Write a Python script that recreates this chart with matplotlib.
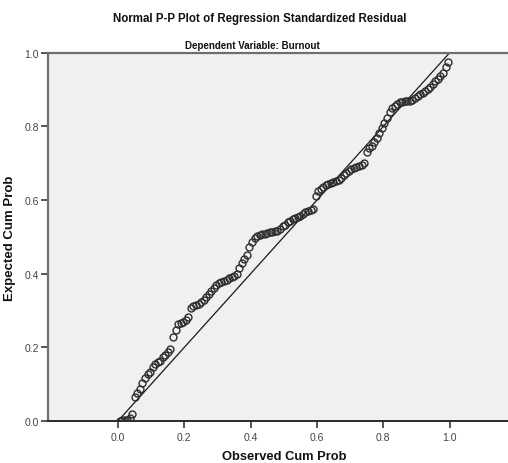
import matplotlib
matplotlib.use("Agg")
import matplotlib.pyplot as plt
from matplotlib import font_manager

# ---- data ----
observed_cum_prob = [
    0.0048, 0.0125, 0.0202, 0.0278, 0.0355, 0.0432, 0.0509, 0.0586, 0.0662, 0.0739,
    0.0816, 0.0893, 0.0969, 0.1046, 0.1123, 0.1200, 0.1276, 0.1353, 0.1430, 0.1507,
    0.1583, 0.1660, 0.1737, 0.1814, 0.1891, 0.1967, 0.2044, 0.2121, 0.2198, 0.2274,
    0.2351, 0.2428, 0.2505, 0.2582, 0.2658, 0.2735, 0.2812, 0.2889, 0.2965, 0.3042,
    0.3119, 0.3196, 0.3273, 0.3349, 0.3426, 0.3503, 0.3580, 0.3656, 0.3733, 0.3810,
    0.3887, 0.3964, 0.4040, 0.4117, 0.4194, 0.4271, 0.4347, 0.4424, 0.4501, 0.4578,
    0.4655, 0.4731, 0.4808, 0.4885, 0.4962, 0.5038, 0.5115, 0.5192, 0.5269, 0.5345,
    0.5422, 0.5499, 0.5576, 0.5653, 0.5729, 0.5806, 0.5883, 0.5960, 0.6036, 0.6113,
    0.6190, 0.6267, 0.6344, 0.6420, 0.6497, 0.6574, 0.6651, 0.6727, 0.6804, 0.6881,
    0.6958, 0.7035, 0.7111, 0.7188, 0.7265, 0.7342, 0.7418, 0.7495, 0.7572, 0.7649,
    0.7726, 0.7802, 0.7879, 0.7956, 0.8033, 0.8109, 0.8186, 0.8263, 0.8340, 0.8417,
    0.8493, 0.8570, 0.8647, 0.8724, 0.8800, 0.8877, 0.8954, 0.9031, 0.9107, 0.9184,
    0.9261, 0.9338, 0.9415, 0.9491, 0.9568, 0.9645, 0.9722, 0.9798, 0.9875, 0.9952,
]
expected_cum_prob = [
    0.001, 0.002, 0.003, 0.004, 0.007, 0.018, 0.064, 0.075, 0.087, 0.103,
    0.118, 0.128, 0.133, 0.147, 0.155, 0.161, 0.164, 0.173, 0.179, 0.186,
    0.196, 0.228, 0.247, 0.263, 0.267, 0.270, 0.273, 0.282, 0.306, 0.312,
    0.315, 0.318, 0.323, 0.328, 0.336, 0.345, 0.353, 0.362, 0.370, 0.375,
    0.378, 0.380, 0.383, 0.387, 0.390, 0.394, 0.400, 0.415, 0.428, 0.440,
    0.451, 0.472, 0.487, 0.497, 0.503, 0.505, 0.507, 0.509, 0.510, 0.512,
    0.513, 0.515, 0.517, 0.522, 0.529, 0.533, 0.539, 0.544, 0.548, 0.551,
    0.554, 0.557, 0.562, 0.567, 0.571, 0.573, 0.576, 0.612, 0.625, 0.630,
    0.635, 0.640, 0.643, 0.646, 0.648, 0.651, 0.655, 0.660, 0.667, 0.674,
    0.678, 0.684, 0.686, 0.689, 0.692, 0.694, 0.700, 0.730, 0.741, 0.748,
    0.758, 0.769, 0.781, 0.795, 0.809, 0.822, 0.840, 0.849, 0.855, 0.860,
    0.865, 0.867, 0.869, 0.870, 0.870, 0.871, 0.876, 0.882, 0.887, 0.891,
    0.897, 0.902, 0.908, 0.914, 0.922, 0.929, 0.936, 0.946, 0.960, 0.975,
]
ref_line = [0.0, 1.0]
tick_values = [0.0, 0.2, 0.4, 0.6, 0.8, 1.0]
tick_labels = ["0.0", "0.2", "0.4", "0.6", "0.8", "1.0"]

title = "Normal P-P Plot of Regression Standardized Residual"
subtitle = "Dependent Variable: Burnout"
xlabel = "Observed Cum Prob"
ylabel = "Expected Cum Prob"

names = {f.name for f in font_manager.fontManager.ttflist}
narrow = "Liberation Sans Narrow" if "Liberation Sans Narrow" in names else "Liberation Sans"
plt.rcParams["font.family"] = ["Liberation Sans", "DejaVu Sans"]
title_size = 10 if narrow == "Liberation Sans Narrow" else 8.3
sub_size = 8 if narrow == "Liberation Sans Narrow" else 7.0

W, H = 508, 464
fig = plt.figure(figsize=(W / 100, H / 100), dpi=100)
fig.patch.set_facecolor("white")

left_px, right_px, top_px, bottom_px = 48, 520, 53.7, 422
ax = fig.add_axes([left_px / W, 1 - bottom_px / H,
                   (right_px - left_px) / W, (bottom_px - top_px) / H])
ax.set_facecolor("#f0f0f0")
ax.set_xlim(-0.211, 1.212)
ax.set_ylim(0.0, 1.0)

ax.plot(ref_line, ref_line, color="#1a1a1a", lw=0.9, zorder=2)
ax.plot(observed_cum_prob, expected_cum_prob, linestyle="none", marker="o",
        markersize=5.0, markerfacecolor="none", markeredgecolor="#2e2e2e",
        markeredgewidth=1.0, zorder=3)

for side in ["left", "top"]:
    ax.spines[side].set_color("#6e6e6e")
    ax.spines[side].set_linewidth(1.6)
ax.spines["bottom"].set_color("#2a2a2a")
ax.spines["bottom"].set_linewidth(1.4)
ax.spines["right"].set_visible(False)

ax.set_xticks(tick_values)
ax.set_xticklabels(tick_labels)
ax.set_yticks(tick_values)
ax.set_yticklabels(tick_labels)
ax.tick_params(axis="both", direction="out", length=5, width=1.2, color="#3a3a3a",
               labelsize=7.5, labelcolor="#444444")
ax.tick_params(axis="x", pad=3)
ax.tick_params(axis="y", pad=1.5)

ax.set_xlabel(xlabel, fontsize=9.3, fontweight="bold", color="#111111", labelpad=6)
ax.set_ylabel(ylabel, fontsize=9.5, fontweight="bold", color="#111111", labelpad=6)

fig.text(260 / W, 1 - 19 / H, title, ha="center", va="center",
         fontsize=title_size, fontweight="bold", family=[narrow, "DejaVu Sans"], color="#111111")
fig.text(252 / W, 1 - 46 / H, subtitle, ha="center", va="center",
         fontsize=sub_size, fontweight="bold", family=[narrow, "DejaVu Sans"], color="#111111")

fig.savefig("out.png", dpi=100, facecolor="white")
